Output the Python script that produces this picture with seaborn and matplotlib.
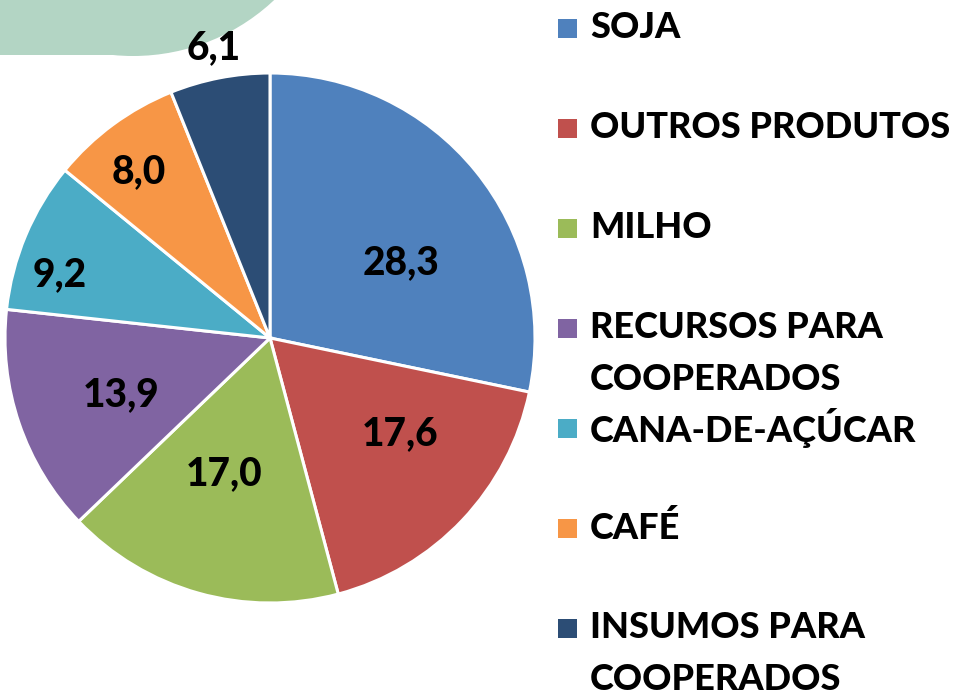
import numpy as np
import matplotlib
matplotlib.use("Agg")
import matplotlib.pyplot as plt
import seaborn as sns
from matplotlib.patches import Rectangle, Circle

sns.set_theme(style="white")
plt.rcParams['font.family'] = ['Lato', 'DejaVu Sans']

categories = ["SOJA", "OUTROS PRODUTOS", "MILHO", "RECURSOS PARA\nCOOPERADOS",
              "CANA-DE-AÇÚCAR", "CAFÉ", "INSUMOS PARA\nCOOPERADOS"]
values = [28.3, 17.6, 17.0, 13.9, 9.2, 8.0, 6.1]
value_labels = ["28,3", "17,6", "17,0", "13,9", "9,2", "8,0", "6,1"]
colors = ["#4F81BD", "#C0504D", "#9BBB59", "#8064A2", "#4BACC6", "#F79646", "#2C4D75"]

# label placement (style): radial fraction and angular offset in degrees
lab_r = [0.57, 0.61, 0.54, 0.60, 0.83, 0.80, 1.115]
lab_dang = [-9, 7, -3, 2, 6, 2, 0]

W, H = 955, 696
fig = plt.figure(figsize=(W / 100, H / 100), dpi=100)
fig.patch.set_facecolor("white")

# background axes in pixel coordinates
bg = fig.add_axes([0, 0, 1, 1], zorder=0)
bg.set_xlim(0, W)
bg.set_ylim(H, 0)
bg.axis("off")
green = "#B3D5C4"
bg.add_patch(Rectangle((-10, -10), 143, 65, facecolor=green, edgecolor="none"))
bg.add_patch(Circle((133, -150), 206, facecolor=green, edgecolor="none"))

# pie axes
cx, cy, R = 270, 338, 265
ax = fig.add_axes([(cx - R) / W, (H - cy - R) / H, 2 * R / W, 2 * R / H], zorder=1)
ax.patch.set_alpha(0)
wedges, _ = ax.pie(values, colors=colors, startangle=90, counterclock=False,
                   radius=1, wedgeprops=dict(edgecolor="white", linewidth=2.2))
ax.set_xlim(-1, 1)
ax.set_ylim(-1, 1)
ax.set_aspect("equal")
ax.axis("off")
for w, lab, r, da in zip(wedges, value_labels, lab_r, lab_dang):
    ang = np.deg2rad((w.theta1 + w.theta2) / 2 + da)
    ax.text(r * np.cos(ang), r * np.sin(ang), lab, ha="center", va="center",
            fontsize=28, fontweight="black", color="black", clip_on=False)

# legend (manual, pixel coordinates)
row_y0, row_dy, line_dy = 28, 100, 52
for i, (cat, col) in enumerate(zip(categories, colors)):
    y = row_y0 + i * row_dy
    bg.add_patch(Rectangle((558, y - 9.5), 19, 19, facecolor=col, edgecolor="none"))
    for j, line in enumerate(cat.split("\n")):
        bg.text(590, y + j * line_dy, line, ha="left", va="center",
                fontsize=26, fontweight="black", color="black")

fig.savefig("out.png", dpi=100)
